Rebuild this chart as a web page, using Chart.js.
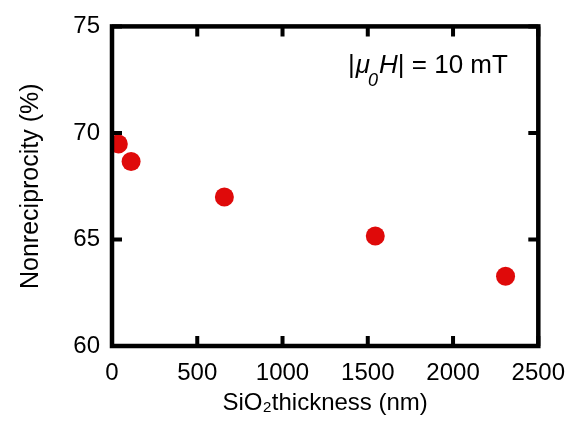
<!DOCTYPE html>
<html>
<head>
<meta charset="utf-8">
<script src="https://cdn.jsdelivr.net/npm/chart.js@4"></script>
<style>
  html, body { margin: 0; padding: 0; background: #fff; }
  #wrap { width: 578px; height: 425px; }
</style>
</head>
<body>
<div id="wrap"><canvas id="scatter1"></canvas></div>
<script>
// SiO2 thickness (nm) vs nonreciprocity (%)
var thickness = [37, 112, 659, 1544, 2308];
var nonreciprocity = [69.48, 68.66, 66.99, 65.16, 63.27];
var xTicks = [0, 500, 1000, 1500, 2000, 2500];
var yTicks = [60, 65, 70, 75];

var FONT = "'Liberation Sans', Arial, sans-serif";

// frame on all four sides with inward ticks (mirror ticks on top/right)
var framePlugin = {
  id: "frame",
  afterDraw: function (chart) {
    var c = chart.ctx, a = chart.chartArea;
    var xs = chart.scales.x, ys = chart.scales.y;
    var len = 10;
    c.save();
    c.strokeStyle = "#000";
    c.lineWidth = 4.5;
    c.lineCap = "square";
    c.strokeRect(a.left, a.top, a.right - a.left, a.bottom - a.top);
    c.lineCap = "butt";
    c.lineWidth = 4;
    c.beginPath();
    xTicks.forEach(function (v) {
      var px = xs.getPixelForValue(v);
      c.moveTo(px, a.bottom); c.lineTo(px, a.bottom - len);
      c.moveTo(px, a.top); c.lineTo(px, a.top + len);
    });
    yTicks.forEach(function (v) {
      var py = ys.getPixelForValue(v);
      c.moveTo(a.left, py); c.lineTo(a.left + len, py);
      c.moveTo(a.right, py); c.lineTo(a.right - len, py);
    });
    c.stroke();

    // |μ0H| = 10 mT
    c.fillStyle = "#000";
    c.textBaseline = "alphabetic";
    var x = 348, y = 73;
    c.font = "26px " + FONT;
    c.fillText("|", x, y); x += c.measureText("|").width + 1;
    c.font = "italic 26px " + FONT;
    c.fillText("\u03bc", x, y); x += c.measureText("\u03bc").width;
    c.font = "italic 18px " + FONT;
    c.fillText("0", x - 2, y + 13); x += c.measureText("0").width - 1;
    c.font = "italic 26px " + FONT;
    c.fillText("H", x, y); x += c.measureText("H").width;
    c.font = "26px " + FONT;
    c.fillText("| = 10 mT", x, y);
    c.restore();
  }
};

new Chart(document.getElementById("scatter1"), {
  type: "scatter",
  data: {
    datasets: [
      {
        label: "Nonreciprocity",
        data: thickness.map(function (t, i) { return { x: t, y: nonreciprocity[i] }; }),
        backgroundColor: "#df0a0a",
        borderColor: "#df0a0a",
        pointRadius: 9.5,
        pointHoverRadius: 9.5,
        borderWidth: 0
      }
    ]
  },
  plugins: [framePlugin],
  options: {
    responsive: true,
    maintainAspectRatio: false,
    animation: false,
    layout: { padding: { left: 0, right: 38, top: 26, bottom: 0 } },
    plugins: {
      legend: { display: false },
      tooltip: { enabled: false }
    },
    scales: {
      x: {
        type: "linear",
        min: 0,
        max: 2500,
        afterBuildTicks: function (s) { s.ticks = xTicks.map(function (v) { return { value: v }; }); },
        afterFit: function (s) { s.height = 79; },
        grid: { display: false, drawTicks: false },
        border: { display: false },
        ticks: {
          color: "#000", padding: 13, maxRotation: 0,
          font: { family: FONT, size: 24 },
          callback: function (v) { return String(v); }
        },
        title: {
          display: true,
          text: "SiO\u2082thickness (nm)",
          color: "#000",
          padding: { top: 2, bottom: 7 },
          font: { family: FONT, size: 24 }
        }
      },
      y: {
        type: "linear",
        min: 60,
        max: 75,
        afterBuildTicks: function (s) { s.ticks = yTicks.map(function (v) { return { value: v }; }); },
        afterFit: function (s) { s.width = 112; },
        grid: { display: false, drawTicks: false },
        border: { display: false },
        ticks: {
          color: "#000", padding: 12,
          font: { family: FONT, size: 24 },
          callback: function (v) { return String(v); }
        },
        title: {
          display: true,
          text: "Nonreciprocity (%)",
          color: "#000",
          padding: { top: 16, bottom: 4 },
          font: { family: FONT, size: 25 }
        }
      }
    }
  }
});
</script>
</body>
</html>
